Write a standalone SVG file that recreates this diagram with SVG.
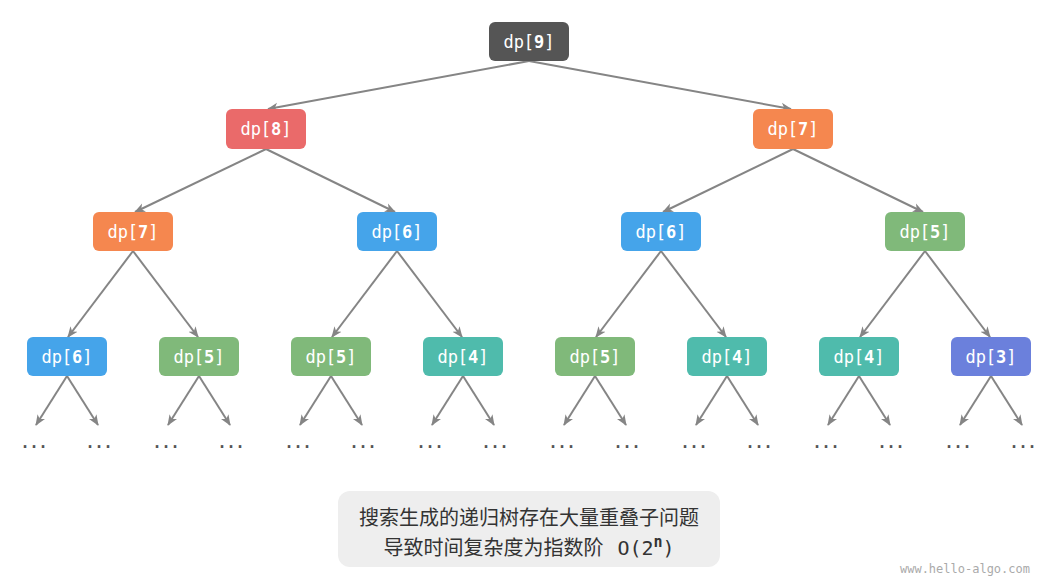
<svg xmlns="http://www.w3.org/2000/svg" width="1056" height="581" viewBox="0 0 1056 581">
<style>
.n text{font-family:"DejaVu Sans Mono","Liberation Mono",monospace;font-size:17px;fill:#fff;text-anchor:middle;dominant-baseline:central}
.n tspan.b{font-weight:bold}
.e line{stroke:#858585;stroke-width:2;marker-end:url(#ah)}
.dots{font-family:"DejaVu Sans Mono",monospace;font-size:15px;font-weight:bold;fill:#555;text-anchor:middle}
.cap{font-family:"Noto Sans CJK SC","Noto Sans",sans-serif;font-size:20px;fill:#333;text-anchor:middle}
.m{font-family:"DejaVu Sans Mono",monospace}
</style>
<defs>
<marker id="ah" markerWidth="12" markerHeight="10" refX="10" refY="5" orient="auto" markerUnits="userSpaceOnUse">
<path d="M0,0.5 L11,5 L0,9.5 L3,5 z" fill="#858585"/>
</marker>
</defs>
<rect width="1056" height="581" fill="#fff"/>
<g class="e">
<line x1="529" y1="61" x2="268" y2="109"/>
<line x1="529" y1="61" x2="791" y2="109"/>
<line x1="266" y1="149" x2="135" y2="212"/>
<line x1="266" y1="149" x2="395" y2="212"/>
<line x1="793" y1="149" x2="663" y2="212"/>
<line x1="793" y1="149" x2="923" y2="212"/>
<line x1="133" y1="251" x2="68" y2="337"/>
<line x1="133" y1="251" x2="198" y2="337"/>
<line x1="397" y1="251" x2="332" y2="337"/>
<line x1="397" y1="251" x2="462" y2="337"/>
<line x1="661" y1="251" x2="596" y2="337"/>
<line x1="661" y1="251" x2="726" y2="337"/>
<line x1="925" y1="251" x2="860" y2="337"/>
<line x1="925" y1="251" x2="990" y2="337"/>
<line x1="67" y1="376" x2="36" y2="425"/>
<line x1="67" y1="376" x2="98" y2="425"/>
<line x1="199" y1="376" x2="168" y2="425"/>
<line x1="199" y1="376" x2="230" y2="425"/>
<line x1="331" y1="376" x2="300" y2="425"/>
<line x1="331" y1="376" x2="362" y2="425"/>
<line x1="463" y1="376" x2="432" y2="425"/>
<line x1="463" y1="376" x2="494" y2="425"/>
<line x1="595" y1="376" x2="564" y2="425"/>
<line x1="595" y1="376" x2="626" y2="425"/>
<line x1="727" y1="376" x2="696" y2="425"/>
<line x1="727" y1="376" x2="758" y2="425"/>
<line x1="859" y1="376" x2="828" y2="425"/>
<line x1="859" y1="376" x2="890" y2="425"/>
<line x1="991" y1="376" x2="960" y2="425"/>
<line x1="991" y1="376" x2="1022" y2="425"/>
</g>
<g id="n9" class="n"><rect x="489" y="22" width="80" height="39" rx="6" fill="#555555"/><text x="529" y="41.5">dp[<tspan class="b">9</tspan>]</text></g>
<g id="n8" class="n"><rect x="226" y="109" width="80" height="40" rx="6" fill="#ea6a6a"/><text x="266" y="129">dp[<tspan class="b">8</tspan>]</text></g>
<g id="n7a" class="n"><rect x="753" y="109" width="80" height="40" rx="6" fill="#f5874f"/><text x="793" y="129">dp[<tspan class="b">7</tspan>]</text></g>
<g id="n7b" class="n"><rect x="93" y="212" width="80" height="39" rx="6" fill="#f5874f"/><text x="133" y="231.5">dp[<tspan class="b">7</tspan>]</text></g>
<g id="n6a" class="n"><rect x="357" y="212" width="80" height="39" rx="6" fill="#45a4ea"/><text x="397" y="231.5">dp[<tspan class="b">6</tspan>]</text></g>
<g id="n6b" class="n"><rect x="621" y="212" width="80" height="39" rx="6" fill="#45a4ea"/><text x="661" y="231.5">dp[<tspan class="b">6</tspan>]</text></g>
<g id="n5a" class="n"><rect x="885" y="212" width="80" height="39" rx="6" fill="#80b97a"/><text x="925" y="231.5">dp[<tspan class="b">5</tspan>]</text></g>
<g id="n6c" class="n"><rect x="27" y="337" width="80" height="39" rx="6" fill="#45a4ea"/><text x="67" y="356.5">dp[<tspan class="b">6</tspan>]</text></g>
<g id="n5b" class="n"><rect x="159" y="337" width="80" height="39" rx="6" fill="#80b97a"/><text x="199" y="356.5">dp[<tspan class="b">5</tspan>]</text></g>
<g id="n5c" class="n"><rect x="291" y="337" width="80" height="39" rx="6" fill="#80b97a"/><text x="331" y="356.5">dp[<tspan class="b">5</tspan>]</text></g>
<g id="n4a" class="n"><rect x="423" y="337" width="80" height="39" rx="6" fill="#4fbbac"/><text x="463" y="356.5">dp[<tspan class="b">4</tspan>]</text></g>
<g id="n5d" class="n"><rect x="555" y="337" width="80" height="39" rx="6" fill="#80b97a"/><text x="595" y="356.5">dp[<tspan class="b">5</tspan>]</text></g>
<g id="n4b" class="n"><rect x="687" y="337" width="80" height="39" rx="6" fill="#4fbbac"/><text x="727" y="356.5">dp[<tspan class="b">4</tspan>]</text></g>
<g id="n4c" class="n"><rect x="819" y="337" width="80" height="39" rx="6" fill="#4fbbac"/><text x="859" y="356.5">dp[<tspan class="b">4</tspan>]</text></g>
<g id="n3" class="n"><rect x="951" y="337" width="80" height="39" rx="6" fill="#6b80dc"/><text x="991" y="356.5">dp[<tspan class="b">3</tspan>]</text></g>
<g id="leaves" class="dots">
<text x="34" y="448">...</text><text x="99" y="448">...</text>
<text x="166" y="448">...</text><text x="231" y="448">...</text>
<text x="298" y="448">...</text><text x="363" y="448">...</text>
<text x="430" y="448">...</text><text x="495" y="448">...</text>
<text x="562" y="448">...</text><text x="627" y="448">...</text>
<text x="694" y="448">...</text><text x="759" y="448">...</text>
<text x="826" y="448">...</text><text x="891" y="448">...</text>
<text x="958" y="448">...</text><text x="1023" y="448">...</text>
</g>
<g id="caption">
<rect x="338" y="491" width="382" height="76" rx="12" fill="#eeeeee"/>
<text class="cap" x="529" y="525">搜索生成的递归树存在大量重叠子问题</text>
<text class="cap" x="529" y="555">导致时间复杂度为指数阶<tspan class="m" dx="14">O(2</tspan><tspan class="m" dy="-8" font-size="15" font-weight="bold">n</tspan><tspan class="m" dy="8">)</tspan></text>
</g>
<text x="1030" y="573" font-family="DejaVu Sans Mono,monospace" font-size="12" fill="#aaa" text-anchor="end">www.hello-algo.com</text>
</svg>
